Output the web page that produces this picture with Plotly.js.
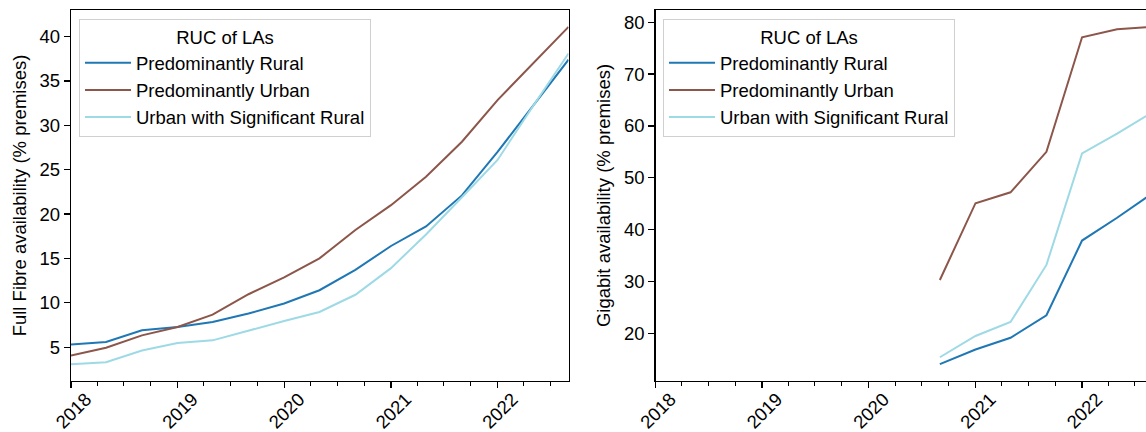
<!DOCTYPE html>
<html>
<head>
<meta charset="utf-8">
<script src="https://cdn.plot.ly/plotly-3.0.1.min.js"></script>
<style>
html, body { margin: 0; padding: 0; overflow: hidden; background: #fff; }
#chart { width: 1160px; height: 432px; }
</style>
</head>
<body>
<div id="chart"></div>
<script>
// ---- data ----
const fullDates = ['2018-01-01','2018-05-01','2018-09-01','2019-01-01','2019-05-01','2019-09-01','2020-01-01','2020-05-01','2020-09-01','2021-01-01','2021-05-01','2021-09-01','2022-01-01','2022-05-01','2022-09-01'];
const fullRural = [5.3, 5.57, 6.89, 7.26, 7.83, 8.78, 9.91, 11.41, 13.7, 16.4, 18.6, 22.1, 27.0, 32.2, 37.4];
const fullUrban = [4.06, 4.93, 6.32, 7.26, 8.66, 10.96, 12.85, 15.0, 18.2, 21.0, 24.2, 28.15, 32.85, 36.9, 41.1];
const fullUrbanSigRural = [3.08, 3.3, 4.62, 5.45, 5.76, 6.89, 7.94, 8.96, 10.9, 13.9, 17.7, 21.9, 26.1, 32.1, 38.1];

const gigDates = ['2020-09-01','2021-01-01','2021-05-01','2021-09-01','2022-01-01','2022-05-01','2022-09-01'];
const gigRural = [14.07, 16.9, 19.15, 23.5, 37.9, 42.3, 47.1];
const gigUrban = [30.3, 45.1, 47.2, 55.0, 77.1, 78.65, 79.1];
const gigUrbanSigRural = [15.4, 19.5, 22.2, 33.2, 54.7, 58.5, 62.7];

const seriesNames = ['Predominantly Rural', 'Predominantly Urban', 'Urban with Significant Rural'];
const seriesColors = ['#1f77b4', '#8c564b', '#9edae5'];
const legendTitle = 'RUC of LAs';
const yTitleLeft = 'Full Fibre availability (% premises)';
const yTitleRight = 'Gigabit availability (% premises)';
const xRange = ['2018-01-01', '2022-09-01'];

// ---- helpers ----
function autoRange(arrays) {
  const all = [].concat(...arrays);
  const mn = Math.min(...all), mx = Math.max(...all);
  const pad = (mx - mn) * 0.05;
  return [mn - pad, mx + pad];
}

const FONT = 'Liberation Sans, Arial, Helvetica, sans-serif';
const FS = 18.5;

const leftY = [fullRural, fullUrban, fullUrbanSigRural];
const rightY = [gigRural, gigUrban, gigUrbanSigRural];

const traces = [];
leftY.forEach((ys, i) => traces.push({
  x: fullDates, y: ys, type: 'scatter', mode: 'lines', name: seriesNames[i],
  line: { color: seriesColors[i], width: 2 }, xaxis: 'x', yaxis: 'y', legend: 'legend'
}));
rightY.forEach((ys, i) => traces.push({
  x: gigDates, y: ys, type: 'scatter', mode: 'lines', name: seriesNames[i],
  line: { color: seriesColors[i], width: 2 }, xaxis: 'x2', yaxis: 'y2', legend: 'legend2'
}));

const W = 1160, ML = 71, MR = 7;
const plotW = W - ML - MR;
const leftEnd = (568.5 - ML) / plotW;
const rightStart = (655.5 - ML) / plotW;

function xAxis(domain, anchor) {
  return {
    type: 'date', domain: domain, anchor: anchor, range: xRange,
    tick0: '2018-01-01', dtick: 'M12', tickformat: '%Y', tickangle: -45,
    ticklabelshift: 15, ticklabelstandoff: -7,
    ticks: 'outside', ticklen: 6, tickwidth: 1.2, tickcolor: '#000',
    minor: { dtick: 'M3', ticks: 'outside', ticklen: 3.5, tickwidth: 1, tickcolor: '#000', showgrid: false },
    showline: true, mirror: true, linecolor: '#000', linewidth: 1.2,
    showgrid: false, zeroline: false,
    tickfont: { size: FS, color: '#000', family: FONT }
  };
}
function yAxis(range, dtick, title, anchor) {
  return {
    range: range, tick0: 0, dtick: dtick, anchor: anchor,
    ticks: 'outside', ticklen: 6, tickwidth: 1.2, tickcolor: '#000',
    showline: true, mirror: true, linecolor: '#000', linewidth: 1.2,
    showgrid: false, zeroline: false,
    tickfont: { size: FS, color: '#000', family: FONT },
    title: { text: title, font: { size: FS, color: '#000', family: FONT }, standoff: 8 }
  };
}
function legend(x) {
  return {
    x: x, y: 0.975, xanchor: 'left', yanchor: 'top',
    bgcolor: 'rgba(255,255,255,0.8)', bordercolor: '#d0d0d0', borderwidth: 1,
    font: { size: FS, color: '#000', family: FONT },
    title: { text: legendTitle, side: 'top center', font: { size: FS, color: '#000', family: FONT } },
    itemwidth: 46, traceorder: 'normal'
  };
}

const layout = {
  width: W, height: 432,
  margin: { l: ML, r: MR, t: 10, b: 51, pad: 0 },
  paper_bgcolor: '#fff', plot_bgcolor: '#fff',
  font: { family: FONT, color: '#000' },
  showlegend: true,
  xaxis: xAxis([0, leftEnd], 'y'),
  yaxis: yAxis(autoRange(leftY), 5, yTitleLeft, 'x'),
  xaxis2: xAxis([rightStart, 1], 'y2'),
  yaxis2: yAxis(autoRange(rightY), 10, yTitleRight, 'x2'),
  legend: legend((79 - ML) / plotW),
  legend2: legend((663 - ML) / plotW)
};

Plotly.newPlot('chart', traces, layout, { staticPlot: true, displayModeBar: false });
</script>
</body>
</html>
